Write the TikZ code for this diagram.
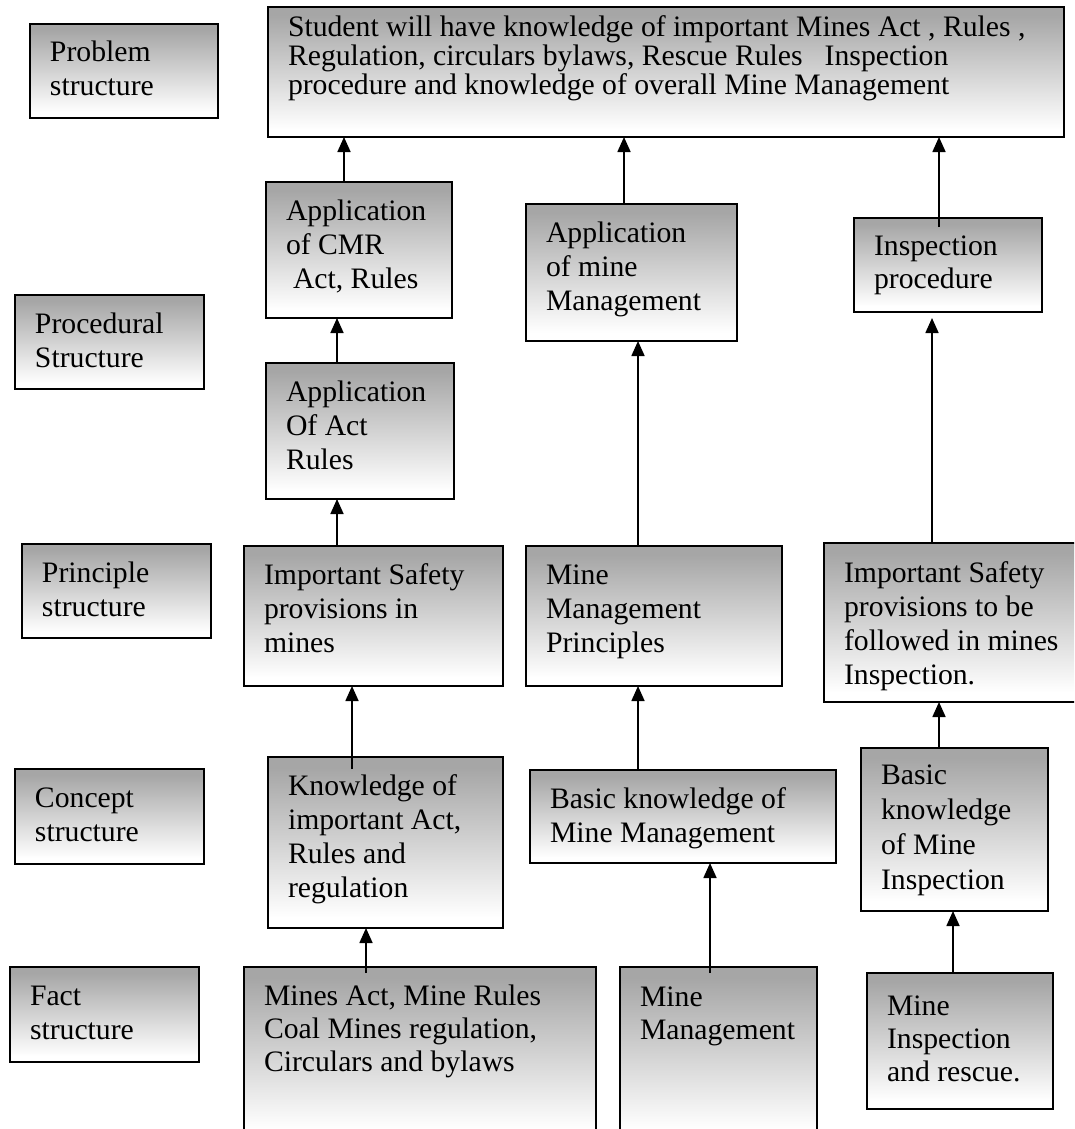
\documentclass[tikz,border=0pt]{standalone}
\usepackage{fontspec}
\setmainfont{Liberation Serif}
\usetikzlibrary{arrows.meta,calc}

\definecolor{gtop}{gray}{0.65}
% grey at the top of each box fading to white at the bottom
\pgfdeclareverticalshading{boxshade}{100bp}{color(0bp)=(white); color(28bp)=(white); color(72bp)=(gtop); color(100bp)=(gtop)}

% \tbox{leading}{first baseline}{name}{x1}{y1}{x2}{y2}{text}
\newcommand\tbox[8]{%
  \pgfmathsetmacro\bw{#6-#4}%
  \pgfmathsetmacro\bh{#7-#5}%
  \node[tb, minimum width=\bw pt, minimum height=\bh pt] (#3) at (#4,#5)
    {\parbox[t][\bh pt][t]{\bw pt}{\fontsize{29.7}{#1}\selectfont\raggedright\leftskip=20pt\rule{0pt}{#2pt}#8}};%
}

\begin{document}
\begin{tikzpicture}[x=1pt,y=-1pt,
  tb/.style={draw=black, line width=1.7pt, shade, shading=boxshade,
             inner sep=0pt, outer sep=0pt, anchor=north west},
  arr/.style={line width=1.7pt, -{Triangle[width=13pt,length=15pt]}}]
\useasboundingbox (0,0) rectangle (1074,1129);
\clip (0,0) rectangle (1074,1129);

% level labels
\tbox{34}{38}{lprob}{30}{24}{218}{118}{Problem\\structure}
\tbox{34}{38}{lproc}{15}{295}{204}{389}{Procedural\\Structure}
\tbox{34}{38}{lprin}{22}{544}{211}{638}{Principle\\structure}
\tbox{34}{38}{lconc}{15}{769}{204}{864}{Concept\\structure}
\tbox{34}{38}{lfact}{10}{967}{199}{1062}{Fact\\structure}

% goal
\tbox{29}{30}{goal}{268}{7}{1064}{137}{Student will have knowledge of important Mines Act , Rules ,\\Regulation, circulars bylaws, Rescue Rules\hspace{22pt}Inspection\\procedure and knowledge of overall Mine Management}

% left column
\tbox{34}{38}{appcmr}{266}{182}{452}{318}{Application\\of CMR\\\hspace*{7pt}Act, Rules}
\tbox{34}{38}{appact}{266}{363}{454}{499}{Application\\Of Act\\Rules}
\tbox{34}{38}{safel}{244}{546}{503}{686}{Important Safety\\provisions in\\mines}
\tbox{34}{38}{knowl}{268}{757}{503}{928}{Knowledge of\\important Act,\\Rules and\\regulation}
\tbox{33}{38}{factl}{244}{967}{596}{1140}{Mines Act, Mine Rules\\Coal Mines regulation,\\Circulars and bylaws}

% middle column
\tbox{34}{38}{appmm}{526}{204}{737}{341}{Application\\of mine\\Management}
\tbox{34}{38}{mmprin}{526}{546}{782}{686}{Mine\\Management\\Principles}
\tbox{34}{38}{basmm}{530}{770}{836}{863}{Basic knowledge of\\Mine Management}
\tbox{33}{39}{factm}{620}{967}{817}{1140}{Mine\\Management}

% right column
\tbox{33}{37}{insp}{854}{218}{1042}{312}{Inspection\\procedure}
\tbox{34}{39}{safer}{824}{543}{1082}{702}{Important Safety\\provisions to be\\followed in mines\\Inspection.}
\tbox{35}{36}{basmi}{861}{748}{1048}{911}{Basic\\knowledge\\of Mine\\Inspection}
\tbox{33}{42}{factr}{867}{973}{1053}{1109}{Mine\\Inspection\\and rescue.}

% connectors
\draw[arr] (appcmr.north -| 344,0) -- (goal.south -| 344,0);
\draw[arr] (appact.north -| 337,0) -- (appcmr.south -| 337,0);
\draw[arr] (safel.north -| 337,0) -- (appact.south -| 337,0);
\draw[arr] ($(knowl.north -| 352,0)+(0,12)$) -- (safel.south -| 352,0);
\draw[arr] ($(factl.north -| 366,0)+(0,6)$) -- (knowl.south -| 366,0);

\draw[arr] (appmm.north -| 624,0) -- (goal.south -| 624,0);
\draw[arr] (mmprin.north -| 638,0) -- (appmm.south -| 638,0);
\draw[arr] (basmm.north -| 638,0) -- (mmprin.south -| 638,0);
\draw[arr] ($(factm.north -| 710,0)+(0,6)$) -- (basmm.south -| 710,0);

\draw[arr] ($(insp.north -| 939,0)+(0,9)$) -- (goal.south -| 939,0);
\draw[arr] (safer.north -| 932,0) -- ($(insp.south -| 932,0)+(0,6)$);
\draw[arr] (basmi.north -| 939,0) -- (safer.south -| 939,0);
\draw[arr] (factr.north -| 953,0) -- (basmi.south -| 953,0);
\end{tikzpicture}
\end{document}
